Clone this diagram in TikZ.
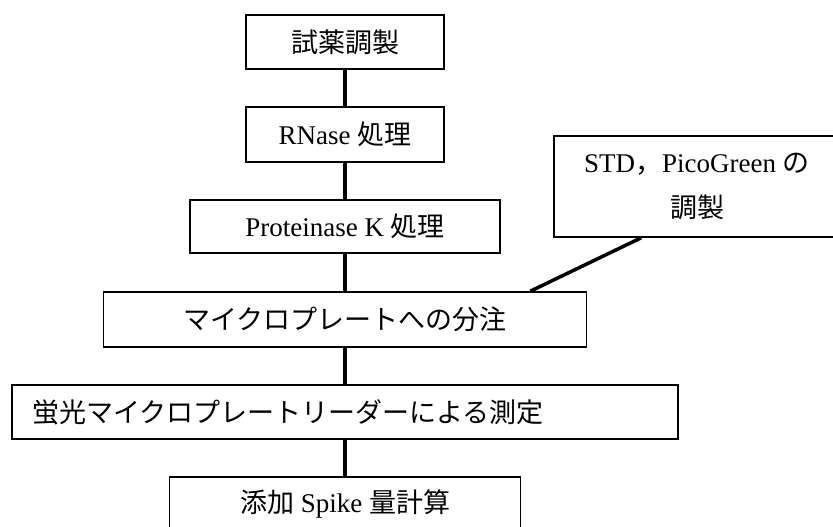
\documentclass[tikz,border=0pt]{standalone}
\usepackage{fontspec}
\setmainfont{Liberation Serif}
\newfontfamily\jp{Noto Sans CJK JP}
\usetikzlibrary{positioning}

\tikzset{
  stepbox/.style={draw, line width=1.6pt, minimum height=54pt, inner sep=0pt,
    font=\fontsize{27}{33}\selectfont},
  link/.style={line width=3.5pt},
}

\begin{document}
\begin{tikzpicture}[x=1pt, y=1pt]
      \useasboundingbox (0,0) rectangle (833,-527);
      \clip (0,0) rectangle (833,-527);
      \node[stepbox, minimum width=198pt] (prep) at (345,-42) {{\jp 試薬調製}};
      \node[stepbox, minimum width=198pt, minimum height=55pt] (rnase) at (345,-134.5) {RNase {\jp 処理}};
      \node[stepbox, minimum width=310pt, minimum height=53pt] (protk) at (345,-226.5) {Proteinase K {\jp 処理}};
      \node[stepbox, minimum width=483pt, minimum height=55pt] (dist) at (345,-319.5) {{\jp マイクロプレートへの分注}};
      \node[stepbox, text width=626pt, align=left, inner xsep=20pt] (meas) at (345,-412) {{\jp 蛍光マイクロプレートリーダーによる測定}};
      \node[stepbox, minimum width=351pt] (calc) at (345,-504) {{\jp 添加} Spike {\jp 量計算}};
      \node[stepbox, minimum width=286pt, minimum height=101pt, align=center] (std) at (697,-186.5)
        {STD{\jp ，}PicoGreen {\jp の}\\[12pt]{\jp 調製}};
      \draw[link] (prep) -- (rnase);
      \draw[link] (rnase) -- (protk);
      \draw[link] (protk) -- (dist);
      \draw[link] (dist) -- (meas);
      \draw[link] (meas) -- (calc);
      \draw[link] ([xshift=-57pt]dist.north east) -- ([xshift=88pt]std.south west);
    \end{tikzpicture}
\end{document}
